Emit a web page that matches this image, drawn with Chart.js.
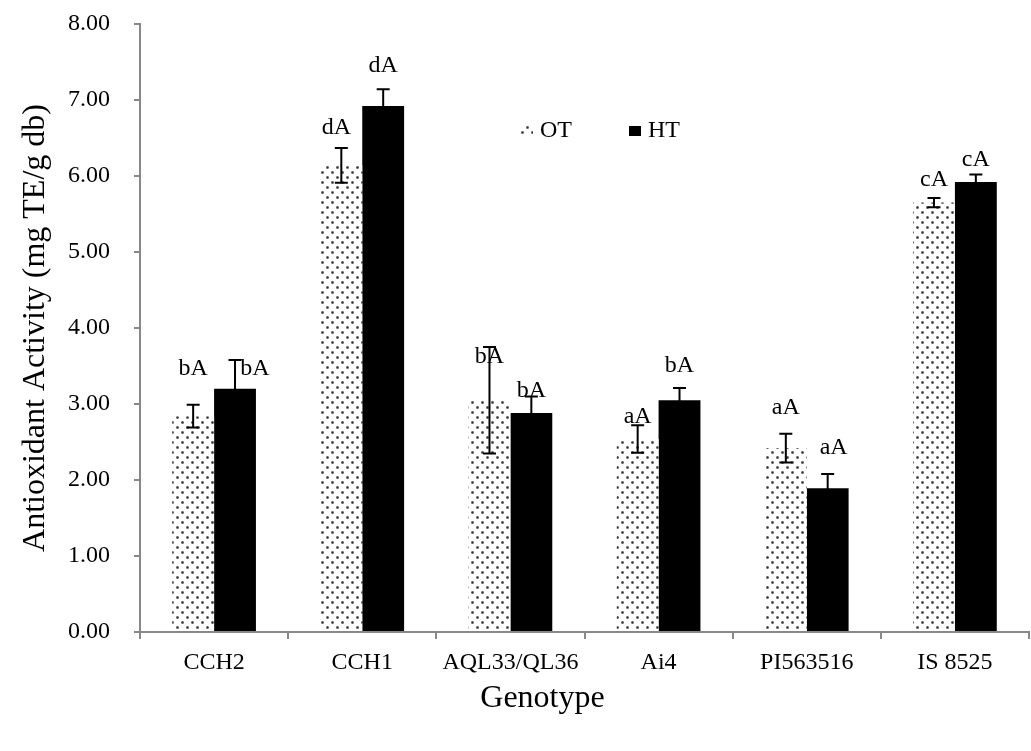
<!DOCTYPE html>
<html><head><meta charset="utf-8">
<script src="https://cdn.jsdelivr.net/npm/chart.js@4.4.0/dist/chart.umd.min.js"></script>
<style>html,body{margin:0;padding:0;background:#fff}#wrap{width:1031px;height:751px;position:relative}</style>
</head><body><div id="wrap"><canvas id="c"></canvas></div>
<script>
const categories = ['CCH2','CCH1','AQL33/QL36','Ai4','PI563516','IS 8525'];
const otValues = [2.84, 6.14, 3.05, 2.54, 2.42, 5.65];
const otErrors = [0.15, 0.23, 0.70, 0.18, 0.19, 0.06];
const htValues = [3.20, 6.92, 2.88, 3.05, 1.89, 5.92];
const htErrors = [0.38, 0.22, 0.22, 0.16, 0.19, 0.10];
const otLetters = ['bA','dA','bA','aA','aA','cA'];
const htLetters = ['bA','dA','bA','bA','aA','cA'];
const yTicks = [0,1,2,3,4,5,6,7,8];
const xTitle = 'Genotype';
const yTitle = 'Antioxidant Activity (mg TE/g db)';

const FONT = '"Liberation Serif", "Times New Roman", serif';

function dotPattern(ctx){
  const p = document.createElement('canvas');
  p.width = 10; p.height = 10;
  const g = p.getContext('2d');
  g.fillStyle = '#fff'; g.fillRect(0,0,10,10);
  g.fillStyle = '#aaa';
  g.fillRect(1,1,3,3); g.fillRect(6,6,3,3);
  g.fillStyle = '#333';
  g.fillRect(2,2,1,1); g.fillRect(7,7,1,1);
  g.fillStyle = '#666';
  g.fillRect(1,2,1,1); g.fillRect(2,1,1,1); g.fillRect(3,2,1,1); g.fillRect(2,3,1,1);
  g.fillRect(6,7,1,1); g.fillRect(7,6,1,1); g.fillRect(8,7,1,1); g.fillRect(7,8,1,1);
  return ctx.createPattern(p, 'repeat');
}

const canvas = document.getElementById('c');
const ctx0 = canvas.getContext('2d');
const otFill = dotPattern(ctx0);

const errorBars = {
  id: 'errorBars',
  afterDatasetsDraw(chart){
    const ctx = chart.ctx, y = chart.scales.y;
    chart.data.datasets.forEach((ds, di) => {
      const meta = chart.getDatasetMeta(di);
      meta.data.forEach((el, i) => {
        const v = ds.data[i], e = ds.errors[i];
        const yt = y.getPixelForValue(v + e), yb = y.getPixelForValue(v - e);
        ctx.save();
        ctx.strokeStyle = '#000'; ctx.lineWidth = 2;
        ctx.beginPath();
        ctx.moveTo(el.x, yt); ctx.lineTo(el.x, yb);
        ctx.moveTo(el.x - 6.5, yt); ctx.lineTo(el.x + 6.5, yt);
        ctx.moveTo(el.x - 6.5, yb); ctx.lineTo(el.x + 6.5, yb);
        ctx.stroke();
        ctx.restore();
      });
    });
  }
};

const sigLabels = {
  id: 'sigLabels',
  afterDatasetsDraw(chart, args, opts){
    const ctx = chart.ctx, y = chart.scales.y;
    chart.data.datasets.forEach((ds, di) => {
      const meta = chart.getDatasetMeta(di);
      const at = opts.yAt[di], dx = opts.dx[di];
      meta.data.forEach((el, i) => {
        ctx.save();
        ctx.fillStyle = '#000';
        ctx.font = '24px ' + FONT;
        ctx.textAlign = 'center'; ctx.textBaseline = 'middle';
        ctx.fillText(ds.letters[i], el.x + dx[i], y.getPixelForValue(at[i]));
        ctx.restore();
      });
    });
  }
};

const innerLegend = {
  id: 'innerLegend',
  afterDraw(chart, args, opts){
    const ctx = chart.ctx, a = chart.chartArea;
    ctx.save();
    ctx.font = '24px ' + FONT;
    ctx.textBaseline = 'middle'; ctx.textAlign = 'left';
    let x = a.left + opts.x;
    const yc = opts.y;
    chart.data.datasets.forEach((ds) => {
      ctx.fillStyle = ds.backgroundColor;
      ctx.fillRect(x, yc - 5, 12, 10);
      ctx.fillStyle = '#000';
      ctx.fillText(ds.label, x + 19, yc);
      x += opts.gap;
    });
    ctx.restore();
  }
};

const shiftedXTitle = {
  id: 'shiftedXTitle',
  afterDraw(chart, args, opts){
    const ctx = chart.ctx, a = chart.chartArea;
    ctx.save();
    ctx.font = '32px ' + FONT;
    ctx.fillStyle = '#000';
    ctx.textAlign = 'center'; ctx.textBaseline = 'middle';
    ctx.fillText(opts.text, (a.left + a.right) / 2 + opts.dx, opts.y);
    ctx.restore();
  }
};

new Chart(canvas, {
  type: 'bar',
  data: {
    labels: categories,
    datasets: [
      { label: 'OT', data: otValues, errors: otErrors, letters: otLetters,
        backgroundColor: otFill, borderWidth: 0,
        categoryPercentage: 0.565, barPercentage: 1.0 },
      { label: 'HT', data: htValues, errors: htErrors, letters: htLetters,
        backgroundColor: '#000', borderWidth: 0,
        categoryPercentage: 0.565, barPercentage: 1.0 }
    ]
  },
  options: {
    responsive: true, maintainAspectRatio: false, animation: false,
    layout: { padding: { top: 10, right: 2, bottom: 10, left: 10 } },
    plugins: {
      legend: { display: false }, tooltip: { enabled: false },
      sigLabels: {
        yAt: [[3.47, 6.64, 3.62, 2.83, 2.95, 5.95], [3.47, 7.45, 3.18, 3.51, 2.42, 6.21]],
        dx: [[0, -5, 0, 0, 0, 0], [20, 0, 0, 0, 6, 0]]
      },
      innerLegend: { x: 381, y: 131, gap: 108 },
      shiftedXTitle: { text: xTitle, dx: -42, y: 699 }
    },
    scales: {
      x: {
        afterFit: s => { s.height = 109; },
        grid: { display: true, drawOnChartArea: false, drawTicks: true, tickLength: 7, color: '#888', lineWidth: 2, offset: true },
        border: { color: '#888', width: 2 },
        ticks: { color: '#000', font: { family: FONT, size: 24 }, padding: 9, maxRotation: 0, autoSkip: false },
        title: { display: false }
      },
      y: {
        min: 0, max: 8,
        afterFit: s => { s.width = 130; s.paddingTop = 24; },
        afterBuildTicks: s => { s.ticks = yTicks.map(v => ({ value: v })); },
        grid: { display: true, drawOnChartArea: false, drawTicks: true, tickLength: 6, color: '#888', lineWidth: 2 },
        border: { color: '#888', width: 2 },
        ticks: { color: '#000', font: { family: FONT, size: 24 }, padding: 24, callback: v => Number(v).toFixed(2) },
        title: { display: true, text: yTitle, color: '#000', font: { family: FONT, size: 32 }, padding: { top: 6, bottom: 4 } }
      }
    }
  },
  plugins: [errorBars, sigLabels, innerLegend, shiftedXTitle]
});
</script></body></html>
